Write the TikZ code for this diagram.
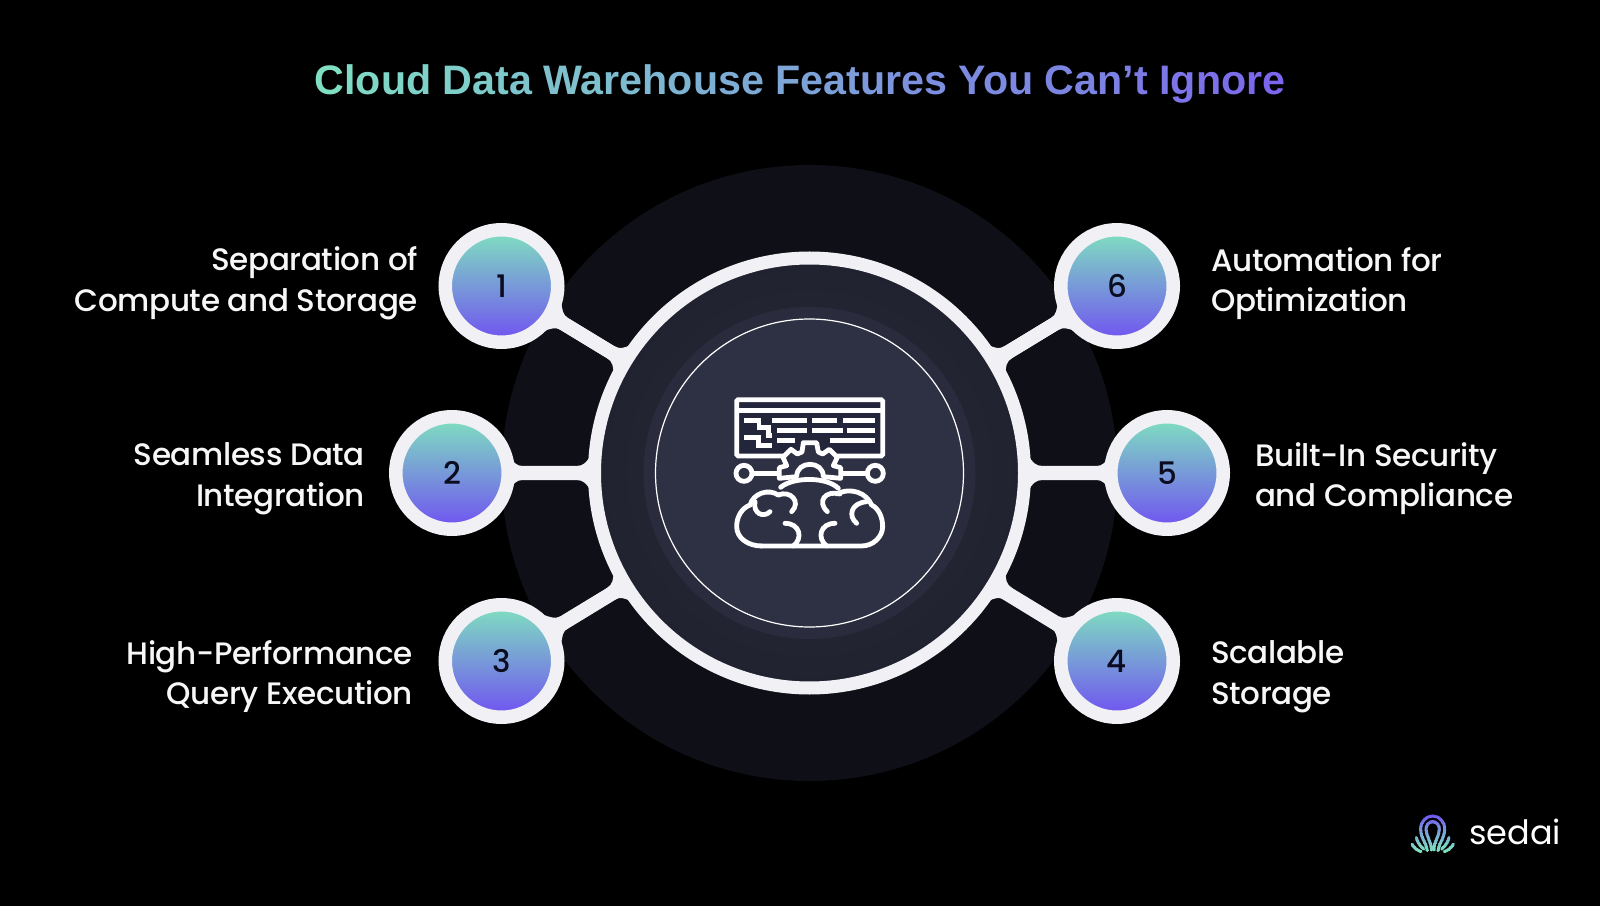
\documentclass[tikz,border=0pt]{standalone}
\usepackage{fontspec}
\setmainfont{Poppins}
\newfontfamily\titlefont{Liberation Sans}
\newfontfamily\labelfont[LetterSpace=-1.2]{Poppins Medium}
\usetikzlibrary{shapes.geometric,positioning,calc}

\definecolor{bgblack}{HTML}{000000}
\definecolor{haloDark}{HTML}{0F1017}
\definecolor{ringWhite}{HTML}{F0F0F5}
\definecolor{diskOuter}{HTML}{20222F}
\definecolor{diskBand}{HTML}{2A2C3E}
\definecolor{diskInner}{HTML}{2E3044}
\definecolor{screenDark}{HTML}{23253A}
\definecolor{titleStart}{HTML}{7FDFC3}
\definecolor{titleEnd}{HTML}{7B5CF0}
\definecolor{bubbleTop}{HTML}{7FE2BF}
\definecolor{bubbleMid}{HTML}{79A0DC}
\definecolor{bubbleBottom}{HTML}{7050F2}
\definecolor{labelWhite}{HTML}{F7F7F7}
\definecolor{numberDark}{HTML}{0C0C20}

\tikzset{
  hubring/.style={circle, draw=ringWhite, line width=13pt, minimum size=430pt, inner sep=0pt,
    inner color=diskBand, outer color=diskOuter},
  numbubble/.style={circle, draw=ringWhite, line width=13.5pt, minimum size=112.5pt, inner sep=0pt,
    top color=bubbleTop, middle color=bubbleMid, bottom color=bubbleBottom,
    text=numberDark, font=\labelfont\fontsize{31}{32}\selectfont},
  linkline/.style={draw=ringWhite, line width=14pt},
  featlabel/.style={text=labelWhite, inner sep=0pt, font=\labelfont\fontsize{31}{40.5}\selectfont},
  iconline/.style={draw=white, line width=4.8pt},
  iconthin/.style={draw=white, line width=4.8pt, line cap=round},
}

% title text, coloured letter by letter
\makeatletter
\newcount\titlepos
\newcommand{\titleword}[1]{\@tfor\tchar:=#1\do{%
  \pgfmathsetmacro\tpct{100-\the\titlepos*100/39}%
  \textcolor{titleStart!\tpct!titleEnd}{\tchar}%
  \global\advance\titlepos by 1\relax}}
\makeatother

\newcommand{\logostrokes}{%
  \draw[line width=3pt, line cap=round] (67,137) .. controls (65,115) and (47,100) .. (47,72)
    .. controls (47,48) and (65,33) .. (83,33) .. controls (101,33) and (119,48) .. (119,72)
    .. controls (119,100) and (101,115) .. (99,137);
  \draw[line width=3pt, line cap=round] (79,135) .. controls (80,110) and (63,95) .. (63,72)
    .. controls (63,60) and (72,50) .. (83,50) .. controls (94,50) and (103,60) .. (103,72)
    .. controls (103,95) and (86,110) .. (87,135);
  \draw[line width=3pt, line cap=round] (34,98) .. controls (38,115) and (48,125) .. (56,132);
  \draw[line width=3pt, line cap=round] (21,118) .. controls (28,130) and (38,136) .. (48,140);
  \draw[line width=3pt, line cap=round] (132,98) .. controls (128,115) and (118,125) .. (110,132);
  \draw[line width=3pt, line cap=round] (145,118) .. controls (138,130) and (128,136) .. (118,140);
}

\begin{document}
\begin{tikzpicture}[x=1pt, y=1pt]

\useasboundingbox (0,0) rectangle (1600,906);
\fill[bgblack] (0,0) rectangle (1600,906);

% =========================
% TITLE
% =========================
\node[font=\titlefont\bfseries\fontsize{41.2}{46}\selectfont] (title) at (800,822.5)
  {\titleword{Cloud} \titleword{Data} \titleword{{Wa}rehouse} \titleword{Features}
   \titleword{{Yo}u} \titleword{{Ca}n’t} \titleword{Ignore}};

% =========================
% HUB
% =========================
\fill[haloDark] (809.5,433) circle (308);
\node[hubring] (hub) at (809.5,433) {};
\fill[diskBand] (hub.center) circle (166);
\node[circle, draw=white, line width=1.2pt, fill=diskInner, minimum size=308pt, inner sep=0pt] (core) at (hub.center) {};

% =========================
% NUMBERED BUBBLES AND LINKS
% =========================
\foreach \n/\px/\py/\ang in {1/501.5/620/148.7, 2/452/433/180, 3/501.5/245/211.3,
                             4/1117/245/328.7, 5/1167/433/0, 6/1117/620/31.3} {
  \node[numbubble] (num\n) at (\px,\py) {\n};
  \draw[linkline] (hub) -- (num\n);
  % flared ends of the link
  \begin{scope}[shift={(hub.center)}, rotate=\ang]
    \fill[ringWhite] (219,17) .. controls (223,11) and (226,7) .. (233,7) -- (287,7)
      .. controls (293,7) and (296,11) .. (301,17) -- (301,-17)
      .. controls (296,-11) and (293,-7) .. (287,-7) -- (233,-7)
      .. controls (226,-7) and (223,-11) .. (219,-17) -- cycle;
  \end{scope}
}

% =========================
% LABELS
% =========================
\node[featlabel, align=right, anchor=east] (lab1) at (418,622.5) {Separation of\\Compute and Storage};
\node[featlabel, align=right, anchor=east] (lab2) at (365,427.5) {Seamless Data\\Integration};
\node[featlabel, align=right, anchor=east] (lab3) at (413,229.5) {High-Performance\\Query Execution};
\node[featlabel, align=left, anchor=west] (lab4) at (1211,229.5) {Scalable\\Storage};
\node[featlabel, align=left, anchor=west] (lab5) at (1255,427.5) {Built-In Security\\and Compliance};
\node[featlabel, align=left, anchor=west] (lab6) at (1211,622.5) {Automation for\\Optimization};

% =========================
% ICON
% =========================
\begin{scope}[shift={(690,536)}, x=0.3333pt, y=-0.3333pt]

% Screen
\draw[iconline, fill=screenDark, rounded corners=1.5pt] (140,89) rectangle (578,258);
\draw[iconline] (140,122) -- (578,122);

% Text rows
\foreach \xa/\xb/\yr in {246/352/151, 366/440/151, 458/555/151, 262/352/182, 366/458/182,
                         472/555/182, 262/314/211, 420/555/211}
  \draw[iconline] (\xa,\yr) -- (\xb,\yr);
\draw[iconline] (162,151) -- (207,151) -- (207,173) -- (235,173) -- (235,197) -- (247,197);
\draw[iconline] (162,202) -- (205,202) -- (205,226) -- (247,226);

% Wires
\draw[iconline] (162,310) circle (24);
\draw[iconline] (556,310) circle (24);
\draw[iconline] (186,310) -- (268,310);
\draw[iconline] (452,310) -- (532,310);

% Gear
\draw[iconline, fill=diskInner, line join=round] (268,325) -- (268,293) -- (290,287) -- (279,262) -- (303,238)
  -- (322,252) -- (336,246) -- (340,218) -- (380,218) -- (385,246) -- (398,252) -- (418,238)
  -- (442,262) -- (430,287) -- (452,293) -- (452,325) -- (400,320)
  .. controls (400,295) and (380,283) .. (360,283) .. controls (340,283) and (320,295) .. (320,320) -- cycle;

% Cloud
\draw[iconthin] (215,528) -- (515,528) .. controls (550,528) and (578,500) .. (578,470)
  .. controls (578,440) and (565,415) .. (545,405) .. controls (530,370) and (485,350) .. (440,372);
\draw[iconthin] (215,528) .. controls (175,528) and (140,505) .. (140,470)
  .. controls (140,440) and (155,415) .. (180,405) .. controls (190,370) and (235,355) .. (265,375);
\draw[iconthin] (272,352) .. controls (310,320) and (410,320) .. (445,355);
\draw[iconthin] (240,425) .. controls (220,445) and (188,430) .. (195,395);
\draw[iconthin] (265,375) .. controls (300,360) and (335,395) .. (305,425);
\draw[iconthin] (412,425) .. controls (380,395) and (405,360) .. (450,372);
\draw[iconthin] (500,460) .. controls (475,440) and (480,400) .. (530,395);
\draw[iconthin] (285,460) .. controls (330,460) and (340,505) .. (310,528);
\draw[iconthin] (435,460) .. controls (390,460) and (380,505) .. (410,528);

\end{scope}

% =========================
% LOGO
% =========================
\begin{scope}[shift={(1405,101)}, x=0.3333pt, y=-0.3333pt]
\foreach \k in {0,...,11} {
  \pgfmathsetmacro\mixa{max(0,100-\k*100/5)}
  \pgfmathsetmacro\mixb{min(100,max(0,(\k-5)*100/6))}
  \ifnum\k>5 \colorlet{logoband}{bubbleTop!\mixb!bubbleMid}\else\colorlet{logoband}{bubbleBottom!\mixa!bubbleMid}\fi
  \begin{scope}[draw=logoband]
    \clip (0,{25+\k*10}) rectangle (170,{35.5+\k*10});
    \logostrokes
  \end{scope}
}
\end{scope}
\node[text=white, font=\fontsize{33.5}{40}\selectfont, inner sep=0pt, anchor=west] (brand) at (1469,74.5) {sedai};

\end{tikzpicture}
\end{document}
